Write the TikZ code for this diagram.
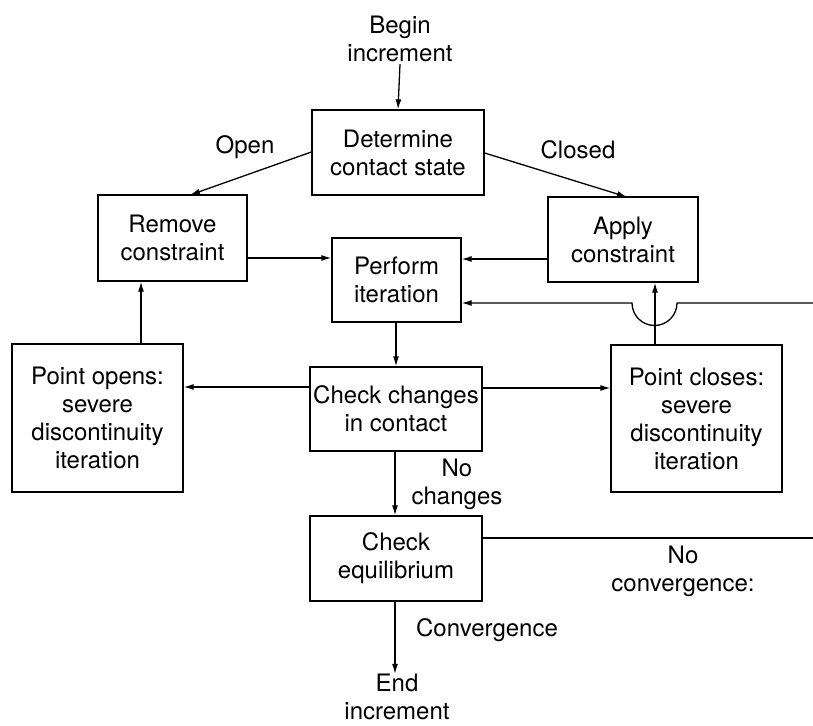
\documentclass[tikz,border=0pt]{standalone}
\usepackage{fontspec}
\setmainfont{TeX Gyre Heros}
\usetikzlibrary{arrows.meta}
\begin{document}
\begin{tikzpicture}[x=1pt,y=-1pt,
  every node/.style={font=\fontsize{24}{28}\selectfont, align=center, inner sep=0pt},
  box/.style={draw, line width=1.3pt},
  lbl/.style={},
  arr/.style={-{Latex[length=10pt,width=6pt]}, line width=1.3pt},
  ln/.style={line width=1.3pt}]
\useasboundingbox (0,0) rectangle (813,725);

\node (begin) at (400,39) {Begin\\increment};
\node[box, minimum width=172pt, minimum height=85pt] (det) at (398,152.5) {Determine\\contact state};
\node[box, minimum width=149pt, minimum height=86pt] (rem) at (172.5,238) {Remove\\constraint};
\node[box, minimum width=150pt, minimum height=85pt] (app) at (623,239.5) {Apply\\constraint};
\node[box, minimum width=129pt, minimum height=84pt] (perf) at (396.5,280) {Perform\\iteration};
\node[box, minimum width=171pt, minimum height=148pt] (popen) at (97.5,418) {Point opens:\\severe\\discontinuity\\iteration};
\node[box, minimum width=172pt, minimum height=84pt] (chk) at (396,409) {Check changes\\in contact};
\node[box, minimum width=171pt, minimum height=147pt] (pclose) at (696.5,418.5) {Point closes:\\severe\\discontinuity\\iteration};
\node[box, minimum width=172pt, minimum height=85pt] (eq) at (396,558.5) {Check\\equilibrium};
\node (end) at (397,697) {End\\increment};

\node[lbl] (lopen) at (245,147) {Open};
\node[lbl] (lclosed) at (578,150) {Closed};
\node[lbl] (lnoch) at (457,484) {No\\changes};
\node[lbl] (lconv) at (487,630) {Convergence};
\node[lbl] (lnoconv) at (683,571) {No\\convergence:};

\coordinate (r1) at (813,303);
\coordinate (r2) at (813,538);

% top
\draw[arr] (begin.south) ++(0,2) -- (det.north);
\draw[arr] (det.west |- 0,152) -- (190,195);
\draw[arr] (det.east |- 0,153) -- (627,197);
% into perform
\draw[arr] (rem.east |- 0,258) -- (perf.west |- 0,258);
\draw[arr] (app.west |- 0,259) -- (perf.east |- 0,259);
\draw[arr] (r1) -- (677,303) arc[start angle=0, end angle=-180, radius=22.5pt] -- (perf.east |- 0,303);
% up arrows
\draw[arr] (pclose.north -| 655,0) -- (app.south -| 655,0);
\draw[arr] (popen.north -| 141,0) -- (rem.south -| 141,0);
% down chain
\draw[arr] (perf.south -| 396,0) -- (chk.north -| 396,0);
\draw[arr] (chk.west |- 0,387) -- (popen.east |- 0,387);
\draw[arr] (chk.east |- 0,388) -- (pclose.west |- 0,388);
\draw[arr] (chk.south -| 395,0) -- (eq.north -| 395,0);
\draw[ln] (eq.east |- 0,538) -- (r2);
\draw[arr] (eq.south -| 395,0) -- (end.north -| 395,0);
\end{tikzpicture}
\end{document}
